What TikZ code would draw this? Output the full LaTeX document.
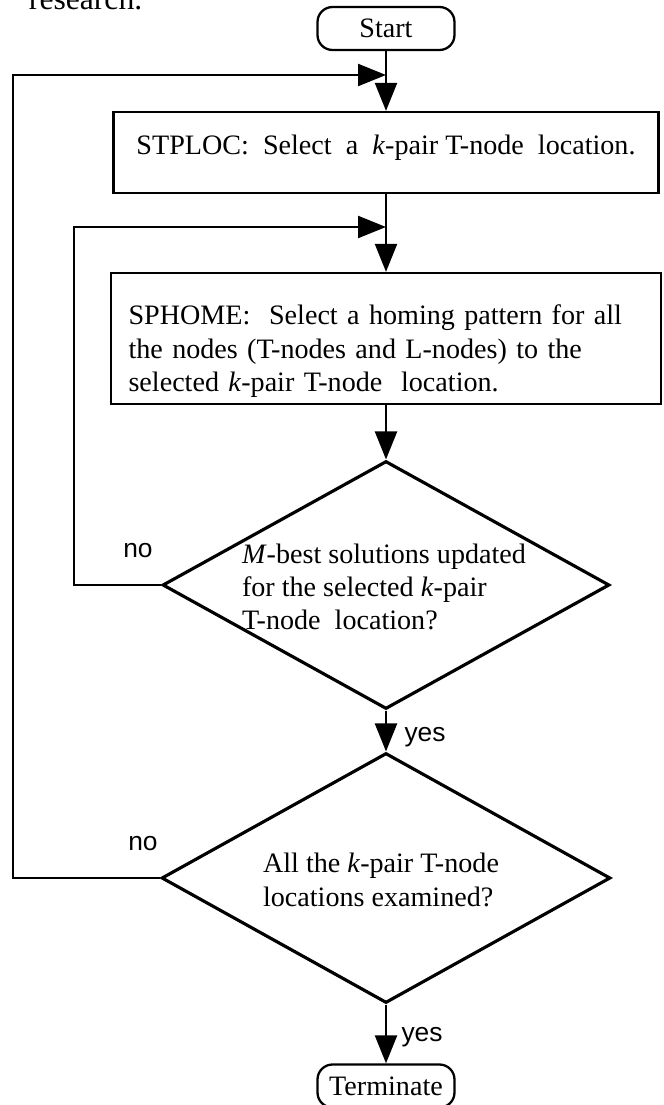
\documentclass[tikz,border=0pt]{standalone}
\usepackage{fontspec}
\setmainfont{Liberation Serif}
\setsansfont{Liberation Sans}
\usetikzlibrary{shapes,arrows,positioning,calc,arrows.meta}

\begin{document}
\begin{tikzpicture}[x=0.02cm, y=-0.02cm, line width=1.3pt,
    every node/.style={font=\fontsize{16}{19}\selectfont},
    term/.style={draw, rounded corners=0.3cm, minimum width=2.74cm, minimum height=0.86cm, inner sep=0pt},
    procbox/.style={draw, rectangle, inner sep=0pt},
    decision/.style={draw, diamond, line width=1.8pt, inner sep=0pt},
    lbl/.style={font=\sffamily\fontsize{15}{17}\selectfont},
    flow/.style={-{Triangle[length=0.56cm, width=0.44cm]}}]
    \clip (0,0) rectangle (663,1105);
    \node[anchor=base west, font=\fontsize{18}{20}\selectfont] (prevline) at (22,10) {research.};
    \node[term] (start) at (386,28.5) {Start};
    \node[procbox, minimum width=10.9cm, minimum height=1.62cm, text depth=0.3cm] (stploc) at (386,152.5) {STPLOC:\ \ Select\ \ a\ \ \textit{k}-pair T-node\ \ location.};
    \node[procbox, minimum width=11cm, minimum height=2.62cm, text width=10.3cm, inner xsep=0.35cm, align=left] (sphome) at (386,338.5) {\rule{0pt}{0.9cm}SPHOME:\ \ Select a homing pattern for all\\ the nodes (T-nodes and L-nodes) to the\\ selected \textit{k}-pair T-node\ \ location.};
    \node[decision, minimum width=8.94cm, minimum height=4.96cm] (upd) at (386,585) {};
    \node[align=left] (updtxt) at (384,587) {\textit{M}-best solutions updated\\ for the selected \textit{k}-pair\\ T-node\ \ location?};
    \node[decision, minimum width=8.98cm, minimum height=5cm] (alldone) at (386,878) {};
    \node[align=left] (alltxt) at (381,880) {All the \textit{k}-pair T-node\\ locations examined?};
    \node[term] (stop) at (386,1086) {Terminate};
    \coordinate (j1) at (386,75);
    \coordinate (j2) at (386,227);
    \draw (start) -- (j1); \draw[flow] (j1) -- (stploc);
    \draw (stploc) -- (j2); \draw[flow] (j2) -- (sphome);
    \draw[flow] (sphome) -- (upd);
    \draw[flow] (upd) -- (alldone);
    \draw[flow] (alldone) -- (stop);
    \draw[flow] (upd.west) -- ++(-87,0) |- (j2);
    \draw[flow] (alldone.west) -- ++(-147,0) |- (j1);
    \node[lbl] (no1) at (138,551) {no};
    \node[lbl] (no2) at (143,844) {no};
    \node[lbl] (yes1) at (425,737) {yes};
    \node[lbl] (yes2) at (422,1037) {yes};
\end{tikzpicture}
\end{document}
